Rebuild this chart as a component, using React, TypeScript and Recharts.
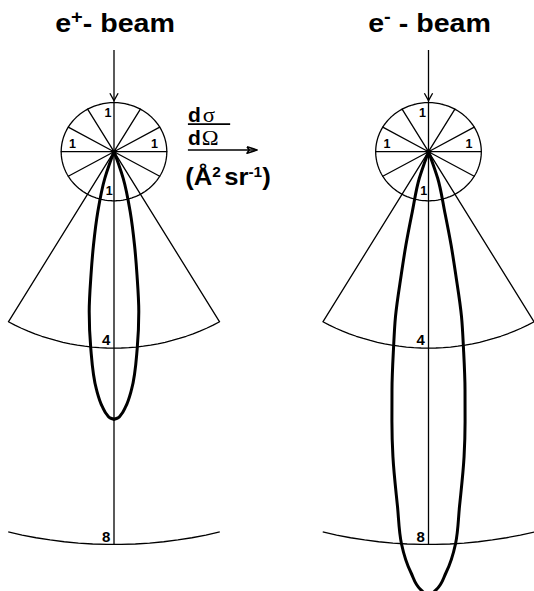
import React from 'react';
import { ScatterChart, Scatter, XAxis, YAxis } from 'recharts';

// ---------------- data ----------------
const panelTitles = [
  [{ t: 'e' }, { t: '+', sup: true }, { t: '- beam' }],
  [{ t: 'e' }, { t: '-', sup: true }, { t: ' - beam' }],
];
// dσ/dΩ scale rings (Å² sr⁻¹)
const ringRadii = [1, 4, 8];
const ringLabels = ['1', '4', '8'];
// angular half extent (deg from beam direction) of each ring's drawn arc
const ringHalfSpan = [180, 30, 14.5];
// spokes of the unit circle (deg from beam direction)
const spokeAngles = [60, 90, 120, 150, -60, -90, -120, -150];

// measured angular distribution, one half of each lobe
// (scattering angle from beam in deg, dσ/dΩ in Å² sr⁻¹)
const posAngles = [19, 18.95, 17.83, 14.09, 11.55, 9.84, 8.2, 6.25, 3.91, 2.44, 1.33, 0.8, 0];
const posValues = [0, 0.28, 0.569, 1.26, 1.94, 2.549, 3.292, 4.036, 4.859, 5.198, 5.37, 5.42, 5.45];
const eleAngles = [19, 18.58, 17.83, 14.09, 12.69, 11.63, 10.54, 9.38, 8.12, 7.18, 6.19, 4.64, 3.67, 2.21, 0.81, 0.46, 0];
const eleValues = [0, 0.279, 0.569, 1.26, 1.948, 2.564, 3.418, 4.067, 4.896, 5.543, 6.248, 7.254, 8.0, 8.581, 8.942, 8.984, 9.004];

// ---------------- layout ----------------
const W = 534;
const H = 591;
const KX = 52.8; // px per unit horizontally
const KY = 49.1; // px per unit vertically
const LEFT_CX = 114;
const RIGHT_CX = 428.5;
const CY = 151.7;
const XMIN = -LEFT_CX / KX;
const XMAX = (W - LEFT_CX) / KX;
const YMAX = CY / KY;
const YMIN = -(H - CY) / KY;
const OFFSETS = [0, (RIGHT_CX - LEFT_CX) / KX];
const BEAM_TOP = 2.07;
const FONT = "'Liberation Sans', Arial, Helvetica, sans-serif";
const SERIF = "'Liberation Serif', 'DejaVu Serif', serif";

const rad = (d: number) => (d * Math.PI) / 180;
const pt = (r: number, deg: number, ox: number) => ({
  x: ox + r * Math.sin(rad(deg)),
  y: -r * Math.cos(rad(deg)),
});
const arc = (r: number, a0: number, a1: number, ox: number) => {
  const n = Math.max(8, Math.ceil(Math.abs(a1 - a0) / 2));
  const out = [];
  for (let i = 0; i <= n; i++) out.push(pt(r, a0 + ((a1 - a0) * i) / n, ox));
  return out;
};
const half = (angles: number[], values: number[], sign: number, ox: number) =>
  angles.map((a, i) => pt(values[i], sign * a, ox));

const Empty = () => <g />;

const TextShape = (props: any) => {
  const { cx, cy, payload } = props;
  const size = payload.size;
  const kids: any[] = [];
  let shift = 0;
  payload.parts.forEach((p: any, i: number) => {
    let dy = 0;
    const lift = (p.lift || 0.38) * size;
    if (p.sup) {
      dy = -lift - shift;
      shift = -lift;
    } else if (shift !== 0) {
      dy = -shift;
      shift = 0;
    }
    kids.push(
      <tspan
        key={i}
        dy={dy || undefined}
        fontSize={p.sup ? size * (p.supScale || 0.7) : p.serif ? size * 1.08 : size}
        fontFamily={p.serif ? SERIF : FONT}
        fontWeight={p.serif ? 'normal' : 'bold'}
        dx={p.dx || undefined}
      >
        {p.t}
      </tspan>
    );
  });
  return (
    <text
      x={0}
      y={0}
      transform={`translate(${cx},${cy}) scale(${payload.sx || 1},1)`}
      textAnchor={payload.anchor || 'middle'}
      fill="#000"
    >
      {kids}
    </text>
  );
};

const thin = { stroke: '#000', strokeWidth: 1.3, strokeLinejoin: 'round' as const };
const thick = { stroke: '#000', strokeWidth: 3, strokeLinejoin: 'round' as const, strokeLinecap: 'round' as const };

export default function App() {
  const series: any[] = [];
  const texts: any[] = [];
  OFFSETS.forEach((ox, pi) => {
    ringRadii.forEach((r, ri) => {
      const hs = ringHalfSpan[ri];
      let pts;
      if (hs >= 180) pts = arc(r, 0, 360, ox);
      else if (ri === 1) pts = [pt(0, 0, ox), ...arc(r, -hs, hs, ox), pt(0, 0, ox)];
      else pts = arc(r, -hs, hs, ox);
      series.push({ key: `ring${pi}-${ri}`, data: pts, style: thin, joint: 'linear' });
      if (ri > 0) texts.push({ x: ox - 0.15, y: -r + 0.06, size: 15, parts: [{ t: ringLabels[ri] }] });
    });
    const spk: any[] = [];
    spokeAngles.forEach((a) => {
      spk.push(pt(0, 0, ox));
      spk.push(pt(ringRadii[0], a, ox));
    });
    spk.push(pt(0, 0, ox));
    series.push({ key: `spk${pi}`, data: spk, style: thin, joint: 'linear' });
    series.push({
      key: `beam${pi}`,
      data: [{ x: ox, y: BEAM_TOP }, { x: ox, y: -ringRadii[2] }],
      style: thin,
      joint: 'linear',
    });
    series.push({
      key: `bhead${pi}`,
      data: [
        { x: ox - 0.078, y: 1.19 },
        { x: ox, y: 1.04 },
        { x: ox + 0.078, y: 1.19 },
      ],
      style: thin,
      joint: 'linear',
    });
    [
      { x: -0.114, y: 0.713 },
      { x: -0.786, y: 0.069 },
      { x: 0.767, y: 0.069 },
      { x: -0.091, y: -0.882 },
    ].forEach((p) => texts.push({ x: ox + p.x, y: p.y, size: 12.5, parts: [{ t: ringLabels[0] }] }));
    texts.push({ x: ox + 0.02, y: 2.43, size: 26, sx: 1.1, parts: panelTitles[pi] });
  });
  // lobes: two halves each
  [
    [posAngles, posValues, OFFSETS[0]],
    [eleAngles, eleValues, OFFSETS[1]],
  ].forEach(([a, v, ox]: any, li) => {
    [-1, 1].forEach((sg) =>
      series.push({ key: `lobe${li}${sg}`, data: half(a, v, sg, ox), style: thick, joint: 'monotoneY' })
    );
  });

  // dσ/dΩ annotation
  series.push({ key: 'frac', data: [{ x: 1.4, y: 0.56 }, { x: 2.2, y: 0.56 }], style: { ...thin, strokeWidth: 1.7 }, joint: 'linear' });
  series.push({ key: 'harrow', data: [{ x: 1.4, y: 0.035 }, { x: 2.68, y: 0.035 }], style: { ...thin, strokeWidth: 1.7 }, joint: 'linear' });
  series.push({
    key: 'hhead',
    data: [
      { x: 2.52, y: 0.035 + 0.065 },
      { x: 2.71, y: 0.035 },
      { x: 2.52, y: 0.035 - 0.065 },
      { x: 2.56, y: 0.035 },
      { x: 2.52, y: 0.035 + 0.065 },
    ],
    style: { ...thin, strokeWidth: 1.6 },
    joint: 'linear',
  });
  texts.push({ x: 1.4, y: 0.6, size: 20, sx: 1.05, anchor: 'start', parts: [{ t: 'd' }, { t: 'σ', serif: true, dx: 2 }] });
  texts.push({ x: 1.4, y: 0.14, size: 20, sx: 1.05, anchor: 'start', parts: [{ t: 'd' }, { t: 'Ω', serif: true, dx: 1 }] });
  texts.push({
    x: 1.35,
    y: -0.68,
    size: 24,
    sx: 1.07,
    anchor: 'start',
    parts: [
      { t: '(Å' },
      { t: '2', sup: true, supScale: 0.6, lift: 0.34 },
      { t: 'sr', dx: 3 },
      { t: '-1', sup: true, supScale: 0.6, lift: 0.34 },
      { t: ')' },
    ],
  });

  return (
    <div style={{ position: 'absolute', left: 0, top: 0, width: W, height: H, background: '#fff' }}>
      <ScatterChart width={W} height={H} margin={{ top: 0, right: 0, bottom: 0, left: 0 }}>
        <XAxis type="number" dataKey="x" domain={[XMIN, XMAX]} hide allowDataOverflow />
        <YAxis type="number" dataKey="y" domain={[YMIN, YMAX]} hide allowDataOverflow />
        {series.map((s) => (
          <Scatter
            key={s.key}
            data={s.data}
            line={s.style}
            lineJointType={s.joint}
            shape={Empty}
            isAnimationActive={false}
          />
        ))}
        <Scatter data={texts} shape={TextShape} isAnimationActive={false} />
      </ScatterChart>
    </div>
  );
}
